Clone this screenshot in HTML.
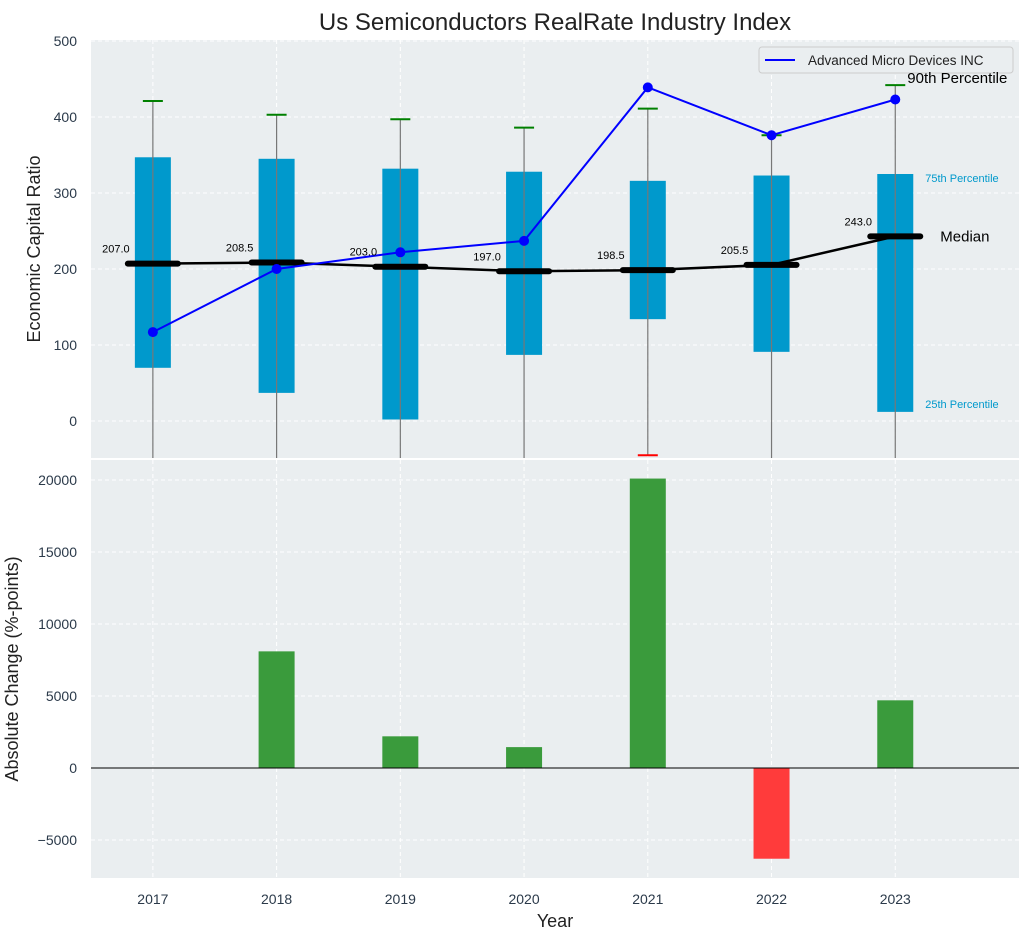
<!DOCTYPE html>
<html><head><meta charset="utf-8"><style>
body{margin:0;background:#fff;font-family:"Liberation Sans",sans-serif}
svg{display:block}
</style></head><body>
<svg id="c" width="1030" height="940" xmlns="http://www.w3.org/2000/svg"></svg>
<script>
const years=[2017,2018,2019,2020,2021,2022,2023];
const q1=[70,37,2,87,134,91,12];
const q3=[347,345,332,328,316,323,325];
const p90=[421,403,397,386,411,376,442];
const p10=[-200,-200,-200,-200,-45,-200,-200];
const medians=[207,208.5,203,197,198.5,205.5,243];
const amd=[117,200,222,237,439,376,423];
const changes=[0,8100,2200,1450,20100,-6300,4700];
const topTicks=[0,100,200,300,400,500];
const botTicks=[-5000,0,5000,10000,15000,20000];

const NS="http://www.w3.org/2000/svg";
const svg=document.getElementById('c');
function el(t,a,p){const e=document.createElementNS(NS,t);for(const k in a)e.setAttribute(k,a[k]);(p||svg).appendChild(e);return e;}
const L=91,R=1019;
const x=i=>L+(i+0.5)/7.5*(R-L);
const T0=40,T1=458,B0=460,B1=878;
const yT=v=>421-v*0.76;
const yB=v=>768-v*0.0144;

const bgT=el('rect',{x:L,y:T0,width:R-L,height:T1-T0,fill:'#eaeef0'});

const bgB=el('rect',{x:L,y:B0,width:R-L,height:B1-B0,fill:'#eaeef0'});

const cp=el('clipPath',{id:'ct'});
el('rect',{x:L,y:T0,width:R-L,height:T1-T0},cp);
const gT=el('g',{'clip-path':'url(#ct)'});

topTicks.forEach(v=>{el('line',{x1:L,x2:R,y1:yT(v),y2:yT(v),stroke:'#fff','stroke-dasharray':'4,3'},gT);
 const t=el('text',{x:L-14,y:yT(v)+5,'text-anchor':'end','font-size':14,fill:'#2b3a4a'});t.textContent=v;
 });
botTicks.forEach(v=>{el('line',{x1:L,x2:R,y1:yB(v),y2:yB(v),stroke:'#fff','stroke-dasharray':'4,3'});
 const t=el('text',{x:L-14,y:yB(v)+5,'text-anchor':'end','font-size':14,fill:'#2b3a4a'});t.textContent=(v<0?'−'+(-v):v);
 });
years.forEach((yr,i)=>{
 el('line',{x1:x(i),x2:x(i),y1:T0,y2:T1,stroke:'#fff','stroke-dasharray':'4,3'},gT);
 el('line',{x1:x(i),x2:x(i),y1:B0,y2:B1,stroke:'#fff','stroke-dasharray':'4,3'});
 const t=el('text',{x:x(i),y:904,'text-anchor':'middle','font-size':14,fill:'#2b3a4a'});t.textContent=yr;
 
});

years.forEach((yr,i)=>{
 const b=el('rect',{x:x(i)-18,y:yT(q3[i]),width:36,height:yT(q1[i])-yT(q3[i]),fill:'#0099cc'},gT);
 
 el('line',{x1:x(i),x2:x(i),y1:yT(p90[i]),y2:yT(p10[i]),stroke:'#777','stroke-width':1.2},gT);
 const c=el('line',{x1:x(i)-10,x2:x(i)+10,y1:yT(p90[i]),y2:yT(p90[i]),stroke:'green','stroke-width':2},gT);
 
 el('line',{x1:x(i)-10,x2:x(i)+10,y1:yT(p10[i]),y2:yT(p10[i]),stroke:'red','stroke-width':2},gT);
});
el('polyline',{points:medians.map((v,i)=>x(i)+','+yT(v)).join(' '),fill:'none',stroke:'#000','stroke-width':2.5},gT);
medians.forEach((v,i)=>{
 const m=el('line',{x1:x(i)-25,x2:x(i)+25,y1:yT(v),y2:yT(v),stroke:'#000','stroke-width':6,'stroke-linecap':'round'},gT);
 
 const t=el('text',{x:x(i)-37,y:yT(v)-11,'text-anchor':'middle','font-size':11,fill:'#000'});t.textContent=v.toFixed(1);
 
});
const pl=el('polyline',{points:amd.map((v,i)=>x(i)+','+yT(v)).join(' '),fill:'none',stroke:'#0000ff','stroke-width':2},gT);

amd.forEach((v,i)=>{const p=el('circle',{cx:x(i),cy:yT(v),r:5,fill:'#0000ff'},gT);
 });

const lg=el('g',{});
el('rect',{x:759,y:47,width:254,height:26,rx:3,fill:'#eaeef0',stroke:'#ccc'},lg);
el('line',{x1:765,x2:795,y1:60,y2:60,stroke:'#0000ff','stroke-width':2},lg);
const lt=el('text',{x:808,y:65,'font-size':13.5,fill:'#222'},lg);lt.textContent='Advanced Micro Devices INC';

const i6=6;
[['90th Percentile',x(i6)+12,yT(p90[i6])-2,15,'#000'],['Median',x(i6)+45,yT(medians[i6])+5,15,'#000'],
 ['75th Percentile',x(i6)+30,yT(q3[i6])+8,11,'#0099cc'],['25th Percentile',x(i6)+30,yT(q1[i6])-4,11,'#0099cc']].forEach(a=>{
 const t=el('text',{x:a[1],y:a[2],'font-size':a[3],fill:a[4]});t.textContent=a[0];
 });

changes.forEach((v,i)=>{
 const y0=yB(Math.max(v,0)),h=Math.abs(yB(v)-yB(0));
 const b=el('rect',{x:x(i)-18,y:y0,width:36,height:h,fill:v>=0?'#3a9b3c':'#ff3b3b'});
 
});
el('line',{x1:L,x2:R,y1:yB(0),y2:yB(0),stroke:'#000','stroke-width':1});

const tt=el('text',{x:555,y:30,'text-anchor':'middle','font-size':24,fill:'#222'});tt.textContent='Us Semiconductors RealRate Industry Index';

const y1=el('text',{x:40,y:249,'text-anchor':'middle','font-size':18,fill:'#222',transform:'rotate(-90 40 249)'});y1.textContent='Economic Capital Ratio';

const y2=el('text',{x:18,y:669,'text-anchor':'middle','font-size':18,fill:'#222',transform:'rotate(-90 18 669)'});y2.textContent='Absolute Change (%-points)';

const xt=el('text',{x:555,y:927,'text-anchor':'middle','font-size':18,fill:'#222'});xt.textContent='Year';

</script>
</body></html>
